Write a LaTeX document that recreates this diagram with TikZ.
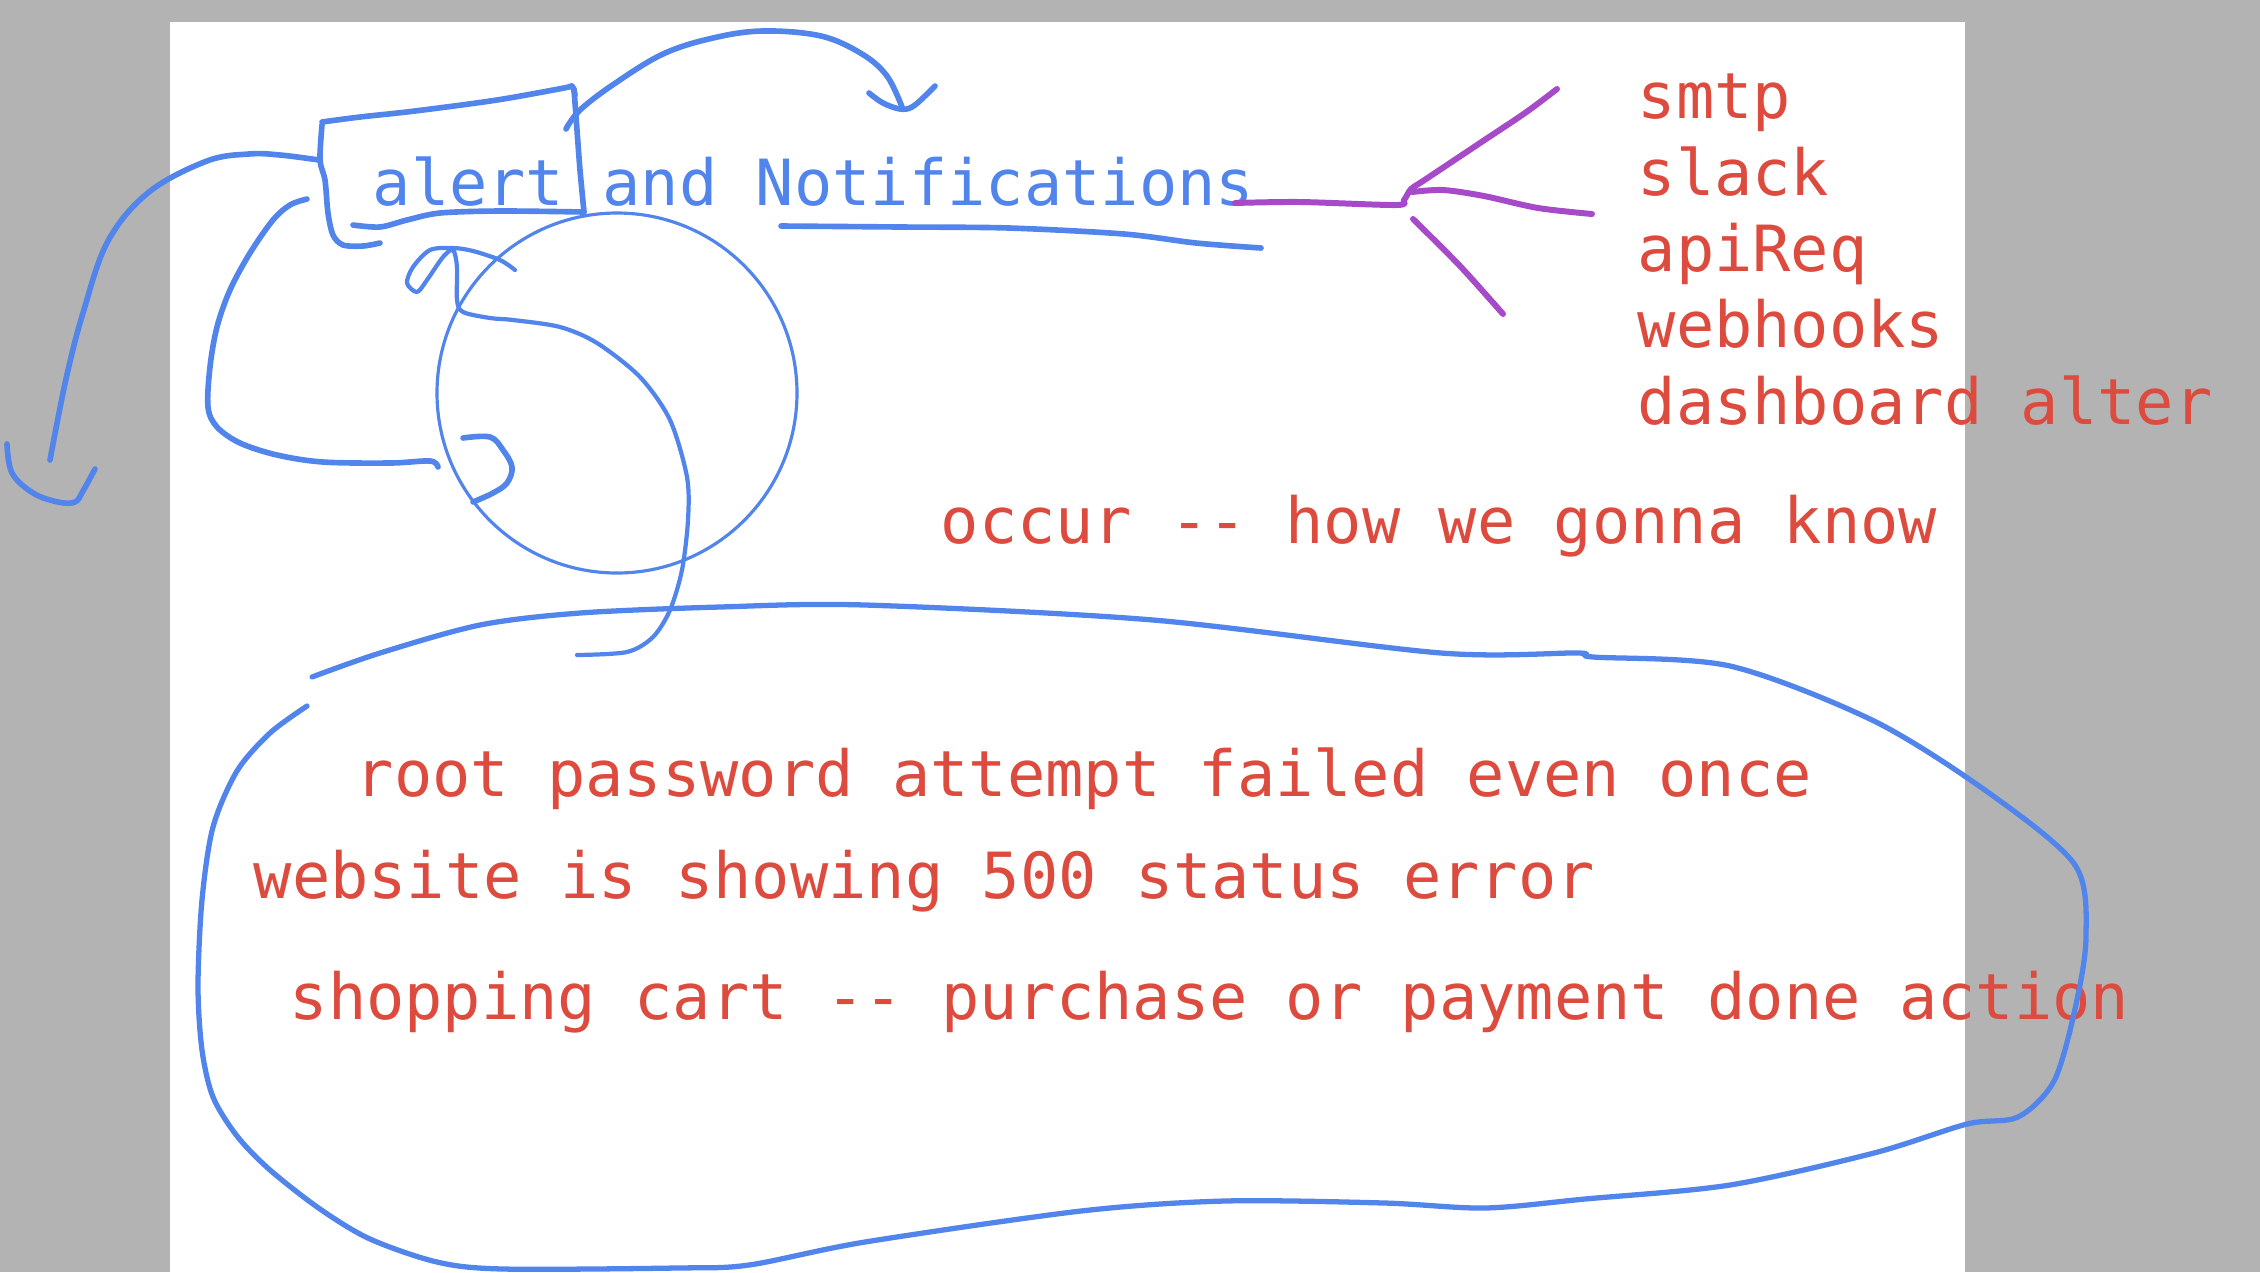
\documentclass[tikz,border=0pt]{standalone}
\usepackage{fontspec}
\newfontfamily\handfont{DejaVu Sans Mono}
\definecolor{pagegray}{HTML}{B3B3B3}
\definecolor{penblue}{HTML}{5285EC}
\definecolor{penred}{HTML}{DC4B3E}
\definecolor{penpurple}{HTML}{A64AC9}
\tikzset{
  txt/.style={anchor=base west, inner sep=0pt, font=\handfont\fontsize{18.1}{20}\selectfont},
  redtxt/.style={txt, text=penred},
  bluetxt/.style={txt, text=penblue},
  pen/.style={draw=penblue, line width=1.6pt, line cap=round, line join=round},
  thinpen/.style={draw=penblue, line width=0.9pt, line cap=round, line join=round},
  purplepen/.style={draw=penpurple, line width=1.7pt, line cap=round, line join=round},
}
\begin{document}
\begin{tikzpicture}[x=0.01cm, y=-0.01cm]
\fill[pagegray] (0,0) rectangle (2260,1272);
\fill[white] (170,22) rectangle (1965,1272);
\useasboundingbox (0,0) rectangle (2260,1272);

% texts
\node[bluetxt] (title) at (372,205) {alert and Notifications};
\node[redtxt] (smtp) at (1637,118) {smtp};
\node[redtxt] (slack) at (1637,195) {slack};
\node[redtxt] (apireq) at (1637,271) {apiReq};
\node[redtxt] (webhooks) at (1637,347) {webhooks};
\node[redtxt] (dash) at (1637,424) {dashboard alter};
\node[redtxt] (occur) at (940,543) {occur -{}- how we gonna know};
\node[redtxt] (root) at (355,796) {root password attempt failed even once};
\node[redtxt] (web) at (253,898) {website is showing 500 status error};
\node[redtxt] (shop) at (289,1019) {shopping cart -{}- purchase or payment done action};

% left arrow
\draw[pen] plot[smooth, tension=0.6] coordinates {(319,160) (280,155) (249,154) (207,161) (149,192) (108,241) (83,313) (66,379) (50,460)};
\draw[pen] plot[smooth, tension=0.6] coordinates {(7,444) (12,473) (33,493) (58,502) (75,502) (83,491) (95,469)};

% box around "alert"
\draw[pen] plot[smooth, tension=0.5] coordinates {(322,122) (360,117) (415,111) (497,100) (564,88) (572,86) (575,95)};
\draw[pen] plot[smooth, tension=0.5] coordinates {(574,89) (577,130) (580,170) (584,212)};
\draw[pen] plot[smooth, tension=0.5] coordinates {(322,125) (320,160) (325,180) (328,213) (333,235) (343,245) (363,246) (380,243)};
\draw[pen] plot[smooth, tension=0.5] coordinates {(353,225) (380,227) (407,220) (440,213) (500,211) (584,212)};

% top arrow
\draw[pen] plot[smooth, tension=0.6] coordinates {(566,129) (580,110) (614,84) (663,54) (713,38) (763,31) (821,36) (862,54) (887,76) (902,107)};
\draw[pen] plot[smooth, tension=0.6] coordinates {(869,93) (883,103) (900,109) (912,107) (925,96) (935,86)};

% underline of Notifications
\draw[pen] plot[smooth, tension=0.5] coordinates {(781,226) (900,227) (1009,228) (1124,234) (1196,243) (1261,248)};

% circle
\draw[thinpen] (617,393) circle[radius=180];

% S-shaped stroke with small loop
\draw[pen, line width=1.2pt] plot[smooth, tension=0.5] coordinates {(515,270) (500,260) (473,251) (453,248) (430,250) (413,267) (407,283) (417,292) (427,280) (443,257) (453,250) (457,267) (457,300) (463,312) (490,318) (513,320) (560,327) (597,343) (640,377) (670,420) (687,477) (688,520) (682,570) (670,610) (653,637) (627,652) (577,655)};

% left loop
\draw[pen] plot[smooth, tension=0.55] coordinates {(307,199) (290,205) (273,220) (250,253) (230,290) (217,327) (210,367) (208,407) (217,427) (240,443) (277,455) (323,462) (390,463) (430,461) (438,467)};

% small hook inside circle
\draw[pen] plot[smooth, tension=0.6] coordinates {(463,438) (490,437) (503,450) (512,467) (507,483) (493,493) (473,502)};

% big blob
\draw[pen, line width=1.5pt] plot[smooth, tension=0.5] coordinates {(312,677) (380,653) (480,625) (580,613) (720,607) (865,605) (1153,620) (1441,653) (1578,653) (1593,657) (1730,666) (1874,721) (1989,793) (2075,865) (2086,937) (2075,1009) (2054,1081) (2018,1117) (1967,1124) (1874,1153) (1730,1185) (1585,1199) (1485,1208) (1384,1203) (1225,1201) (1081,1211) (865,1242) (749,1265) (677,1268) (503,1269) (437,1262) (370,1239) (320,1209) (270,1170) (237,1136) (213,1097) (202,1050) (198,986) (202,900) (213,827) (237,771) (270,733) (307,706)};

% purple fan
\draw[purplepen] plot[smooth, tension=0.5] coordinates {(1235,203) (1300,202) (1396,205) (1404,200) (1411,189) (1423,181) (1480,143) (1525,113) (1557,89)};
\draw[purplepen] plot[smooth, tension=0.5] coordinates {(1412,192) (1443,190) (1484,196) (1538,208) (1592,214)};
\draw[purplepen] plot[smooth, tension=0.5] coordinates {(1413,219) (1460,266) (1503,314)};
\end{tikzpicture}
\end{document}
